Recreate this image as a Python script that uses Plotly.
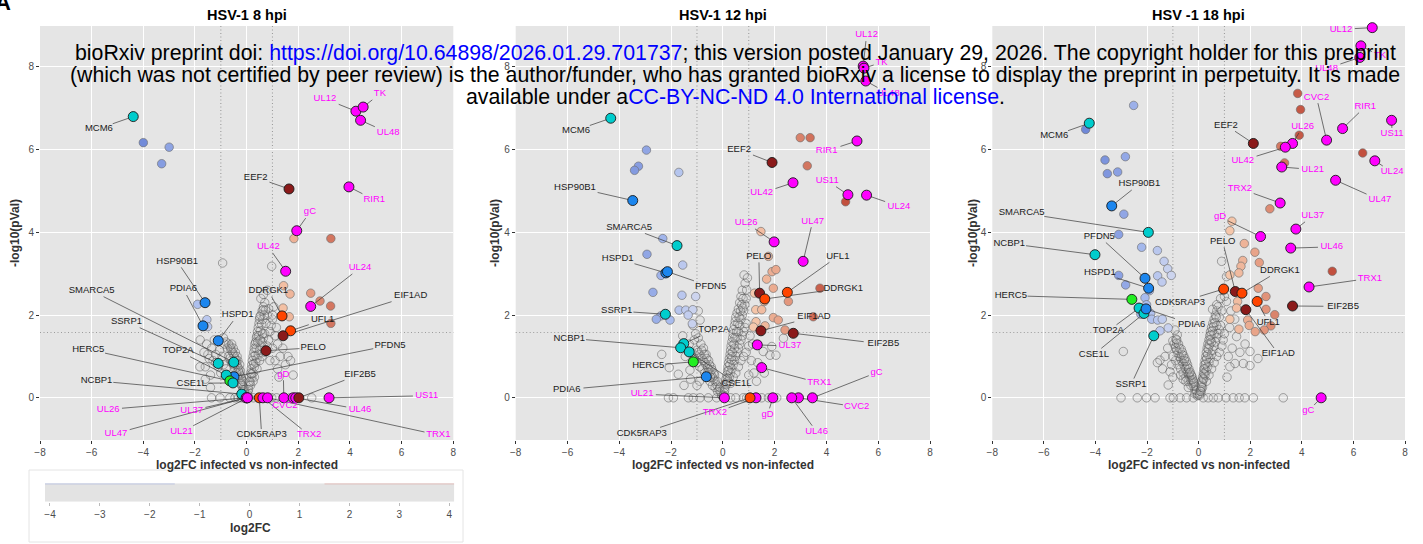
import plotly.graph_objects as go

W, H = 1423, 544

# ---------------- data ----------------
panel_titles = ["HSV-1 8 hpi", "HSV-1 12 hpi", "HSV -1 18 hpi"]
x_title = "log2FC infected vs non-infected"
y_title = "-log10(pVal)"
x_tick_vals = [-8, -6, -4, -2, 0, 2, 4, 6, 8]
y_tick_vals = [0, 2, 4, 6, 8]
fc_threshold = 1.0
p_threshold = 1.58
legend_tick_vals = [-4, -3, -2, -1, 0, 1, 2, 3, 4]
legend_title = "log2FC"

# highlighted genes: (name, log2FC, -log10 p, group)
genes_8 = [
    ("MCM6", -4.39, 6.80, "cyan"), ("UL12", 4.23, 6.93, "viral"), ("TK", 4.51, 7.03, "viral"),
    ("UL48", 4.41, 6.71, "viral"), ("EEF2", 1.64, 5.05, "darkred"), ("RIR1", 3.96, 5.10, "viral"),
    ("gC", 1.94, 4.04, "viral"), ("UL42", 1.51, 3.06, "viral"), ("UL24", 2.48, 2.21, "viral"),
    ("DDRGK1", 1.37, 1.98, "orange"), ("UFL1", 1.70, 1.62, "orange"), ("EIF1AD", 1.41, 1.50, "darkred"),
    ("PELO", 0.75, 1.14, "darkred"), ("PFDN5", -0.49, 0.51, "blue"), ("HSP90B1", -1.61, 2.30, "blue"),
    ("PDIA6", -1.69, 1.74, "blue"), ("HSPD1", -1.10, 1.38, "blue"), ("SMARCA5", -0.50, 0.86, "cyan"),
    ("SSRP1", -1.10, 0.83, "cyan"), ("TOP2A", -0.79, 0.55, "cyan"), ("HERC5", -0.65, 0.41, "green"),
    ("CSE1L", -0.53, 0.36, "cyan"), ("NCBP1", -0.19, 0.09, "cyan"), ("UL26", 0.00, 0.0, "viral"),
    ("UL37", 0.02, 0.0, "viral"), ("UL47", -0.02, 0.0, "viral"), ("UL21", 0.03, 0.0, "viral"),
    ("CDK5RAP3", 0.49, 0.0, "orange"), ("TRX2", 0.63, 0.0, "viral"), ("TRX1", 0.81, 0.0, "viral"),
    ("gD", 1.44, 0.0, "viral"), ("CVC2", 1.80, 0.0, "viral"), ("UL46", 1.90, 0.0, "viral"),
    ("EIF2B5", 2.02, 0.0, "darkred"), ("US11", 3.19, 0.0, "viral"),
]
genes_12 = [
    ("UL12", 5.42, 8.02, "viral"), ("TK", 5.45, 7.97, "viral"), ("UL48", 5.52, 7.66, "viral"),
    ("MCM6", -4.33, 6.76, "cyan"), ("HSP90B1", -3.48, 4.77, "blue"), ("EEF2", 1.90, 5.69, "darkred"),
    ("RIR1", 5.18, 6.21, "viral"), ("UL42", 2.71, 5.20, "viral"), ("US11", 4.83, 4.91, "viral"),
    ("UL24", 5.55, 4.90, "viral"), ("UL26", 1.98, 3.77, "viral"), ("UL47", 3.10, 3.30, "viral"),
    ("SMARCA5", -1.77, 3.68, "cyan"), ("HSPD1", -2.20, 3.02, "blue"), ("PFDN5", -2.14, 3.05, "blue"),
    ("SSRP1", -2.22, 2.02, "cyan"), ("PELO", 1.42, 2.53, "darkred"), ("UFL1", 2.49, 2.55, "orange"),
    ("DDRGK1", 1.62, 2.39, "orange"), ("EIF1AD", 1.47, 1.62, "darkred"), ("EIF2B5", 2.72, 1.56, "darkred"),
    ("UL37", 1.33, 1.28, "viral"), ("TOP2A", -1.51, 1.31, "cyan"), ("NCBP1", -1.63, 1.21, "cyan"),
    ("CSE1L", -1.30, 1.11, "cyan"), ("HERC5", -1.14, 0.87, "green"), ("PDIA6", -0.64, 0.51, "blue"),
    ("TRX1", 1.50, 0.73, "viral"), ("gC", 3.46, 0.0, "viral"), ("CVC2", 2.92, 0.0, "viral"),
    ("UL46", 2.66, 0.0, "viral"), ("gD", 1.93, 0.0, "viral"), ("TRX2", 1.28, 0.0, "viral"),
    ("CDK5RAP3", 1.05, 0.0, "orange"), ("UL21", 0.06, 0.0, "viral"),
]
genes_18 = [
    ("UL12", 6.73, 8.95, "viral"), ("TK", 6.29, 8.51, "viral"), ("UL48", 6.25, 8.23, "viral"),
    ("MCM6", -4.24, 6.64, "cyan"), ("HSP90B1", -3.37, 4.64, "blue"), ("EEF2", 2.12, 6.15, "darkred"),
    ("CVC2", 4.96, 6.23, "viral"), ("RIR1", 5.58, 6.51, "viral"), ("US11", 7.48, 6.71, "viral"),
    ("UL26", 3.64, 6.15, "viral"), ("UL42", 3.36, 6.06, "viral"), ("UL21", 3.22, 5.58, "viral"),
    ("UL24", 6.83, 5.73, "viral"), ("UL47", 5.31, 5.26, "viral"), ("TRX2", 3.16, 4.71, "viral"),
    ("gD", 2.40, 3.90, "viral"), ("UL37", 3.77, 4.08, "viral"), ("SMARCA5", -1.95, 4.00, "cyan"),
    ("NCBP1", -4.02, 3.46, "cyan"), ("PFDN5", -2.08, 2.89, "blue"), ("HSPD1", -1.94, 2.65, "blue"),
    ("HERC5", -2.59, 2.38, "green"), ("TOP2A", -2.31, 2.17, "cyan"), ("CSE1L", -2.12, 2.04, "cyan"),
    ("PDIA6", -2.04, 2.15, "blue"), ("SSRP1", -1.74, 1.50, "cyan"), ("CDK5RAP3", 0.97, 2.63, "orange"),
    ("PELO", 1.42, 2.57, "darkred"), ("DDRGK1", 1.68, 2.53, "orange"), ("EIF1AD", 1.83, 2.13, "darkred"),
    ("UFL1", 2.27, 2.33, "orange"), ("EIF2B5", 3.64, 2.22, "darkred"), ("TRX1", 4.28, 2.68, "viral"),
    ("UL46", 3.57, 3.62, "viral"), ("gC", 4.75, 0.0, "viral"),
]

# significant (coloured by log2FC) points: (log2FC, -log10 p)
sig_8 = [(-4.0, 6.17), (-3.0, 6.06), (-3.29, 5.66), (-1.90, 2.26), (-1.54, 1.89), (-1.51, 1.72),
         (1.83, 3.85), (3.26, 3.85), (1.43, 2.71), (1.68, 2.51), (2.48, 2.53), (2.84, 2.34),
         (3.25, 2.22), (1.41, 2.17), (1.65, 1.96), (3.26, 1.80)]
sig_12 = [(-2.95, 5.99), (-3.26, 5.60), (-3.41, 5.50), (-1.70, 5.45), (-2.32, 3.85), (-2.93, 3.47),
          (-1.55, 3.21), (-2.39, 2.96), (-2.70, 2.55), (-1.58, 2.48), (-1.05, 2.45), (-1.69, 2.12),
          (-1.43, 2.12), (-1.16, 2.13), (-1.34, 2.00), (-2.40, 1.98), (-2.57, 1.90), (-2.04, 1.88),
          (-1.18, 1.79),
          (2.99, 6.29), (3.37, 6.29), (3.26, 5.61), (4.74, 4.74), (1.47, 4.02), (3.75, 2.65),
          (1.76, 3.42), (1.90, 3.05), (2.05, 3.10), (1.69, 2.87), (1.95, 2.65), (1.22, 2.53),
          (1.60, 2.33), (2.53, 2.33), (1.27, 2.13), (1.50, 2.13), (1.95, 1.94), (2.14, 1.88),
          (1.28, 1.84), (1.63, 1.74), (1.18, 1.71), (2.40, 1.64), (3.49, 1.96)]
sig_18 = [(-4.38, 6.49), (-2.52, 7.07), (-2.84, 5.83), (-3.63, 5.75), (-3.54, 5.42), (-3.14, 5.46),
          (-2.90, 4.44), (-3.10, 3.95), (-2.21, 3.64), (-1.60, 3.56), (-1.34, 3.30), (-1.20, 3.12),
          (-1.06, 2.96), (-1.59, 2.95), (-3.10, 2.96), (-2.83, 2.73), (-1.42, 2.80), (-1.91, 2.59),
          (-2.08, 2.42), (-2.02, 2.25), (-2.24, 2.02), (-1.86, 2.04), (-1.82, 1.90), (-1.59, 1.88),
          (-1.41, 1.90), (-1.18, 1.69), (-1.50, 1.62),
          (3.84, 7.36), (3.95, 6.97), (3.90, 6.35), (3.18, 6.08), (3.33, 5.68), (2.76, 4.57),
          (6.36, 5.92), (1.29, 4.27), (1.21, 4.04), (1.77, 3.73), (2.18, 3.52), (1.71, 3.32),
          (2.35, 3.27), (1.64, 3.18), (1.56, 3.02), (1.21, 2.97), (2.31, 2.65), (2.61, 2.45),
          (1.51, 2.33), (1.47, 2.17), (2.61, 2.14), (2.95, 2.01), (1.90, 1.88), (1.96, 1.75),
          (2.80, 1.74), (2.54, 1.64), (2.19, 1.60), (1.56, 1.66), (1.21, 1.90), (5.18, 3.06)]

# non-significant background proteins: (log2FC, -log10 p)
ns_8 = [(-1.36, 0), (-1.03, 0), (-0.65, 0), (-0.45, 0), (-0.32, 0), (0.26, 0), (0.45, 0), (0.64, 0),
        (0.77, 0), (0.97, 0), (1.16, 0), (1.68, 0), (2.52, 0), (-0.2, 0), (0.1, 0), (-0.1, 0),
        (-0.05, 0.1), (-0.1, 0.15), (-0.12, 0.25), (-0.15, 0.3), (-0.18, 0.35), (-0.2, 0.45), (-0.22, 0.5),
        (-0.25, 0.55), (-0.28, 0.6), (-0.3, 0.7), (-0.32, 0.65), (-0.35, 0.75), (-0.38, 0.8), (-0.4, 0.9),
        (-0.42, 0.85), (-0.45, 0.95), (-0.48, 1.0), (-0.5, 1.05), (-0.55, 1.1), (-0.6, 1.15), (-0.62, 1.2),
        (-0.65, 1.25), (-0.7, 1.3), (-0.75, 1.2), (-0.8, 1.35), (-0.85, 1.3), (-0.9, 1.45), (-0.3, 0.45),
        (-0.35, 0.5), (-0.4, 0.6), (-0.45, 0.7), (-0.5, 0.8), (-0.55, 0.85), (-0.6, 0.9), (-0.65, 0.95),
        (-0.7, 1.0), (-0.2, 0.3), (-0.25, 0.35), (-0.15, 0.2), (-0.1, 0.1),
        (-0.03, 0.05), (-0.08, 0.2), (-0.14, 0.4), (-0.24, 0.65), (-0.34, 0.9), (-0.44, 1.1),
        (-0.52, 1.2), (-0.58, 1.3), (-0.27, 0.8), (-0.37, 1.0),
        (-1.0, 0.6), (-1.1, 0.75), (-1.2, 0.85), (-1.3, 0.9), (-1.45, 0.95), (-1.5, 1.05), (-1.6, 0.75),
        (-1.8, 1.4), (-1.55, 1.3), (-1.35, 1.2), (-1.2, 1.05), (-0.95, 1.0), (-0.9, 0.8), (-0.8, 0.7),
        (-1.05, 1.15), (-1.4, 0.55), (-1.65, 1.1), (-1.25, 1.4), (-0.93, 3.26), (-1.4, 0.25), (-1.6, 0.45),
        (-1.81, 0.75),
        (0.05, 0.15), (0.08, 0.3), (0.1, 0.4), (0.12, 0.5), (0.15, 0.6), (0.18, 0.7), (0.2, 0.8),
        (0.22, 0.9), (0.25, 1.0), (0.28, 1.1), (0.3, 1.2), (0.32, 1.3), (0.35, 1.35), (0.38, 1.45),
        (0.4, 1.5), (0.42, 1.6), (0.45, 1.7), (0.48, 1.8), (0.5, 1.9), (0.55, 2.0), (0.6, 2.1),
        (0.65, 2.2), (0.7, 2.3), (0.2, 0.5), (0.25, 0.6), (0.3, 0.75), (0.35, 0.85), (0.4, 0.95),
        (0.45, 1.05), (0.5, 1.15), (0.55, 1.25), (0.6, 1.35), (0.65, 1.45), (0.7, 1.55), (0.3, 0.5),
        (0.4, 0.7), (0.5, 0.9), (0.6, 1.0), (0.7, 1.1), (0.8, 1.25), (0.85, 1.4), (0.9, 1.6),
        (0.95, 1.75), (1.0, 1.9), (0.75, 1.8), (0.8, 2.0), (0.85, 2.15), (0.15, 0.3), (0.25, 0.4),
        (0.03, 0.08), (0.07, 0.2), (0.13, 0.38), (0.19, 0.58), (0.27, 0.82), (0.33, 1.02),
        (0.37, 1.2), (0.43, 1.35), (0.47, 1.5), (0.53, 1.62), (0.58, 1.78), (0.63, 1.9),
        (0.68, 2.0), (0.73, 2.12), (0.52, 1.4), (0.62, 1.55),
        (0.64, 2.13), (0.51, 1.96), (1.0, 2.0), (0.97, 3.18), (1.1, 0.9), (1.2, 0.7), (1.3, 1.0),
        (1.5, 0.8), (1.8, 0.55), (1.6, 1.0), (1.4, 1.2), (1.2, 1.3), (1.1, 1.5), (1.0, 1.2), (0.9, 0.9),
        (1.25, 0.5), (1.7, 0.9), (0.55, 2.4), (0.65, 2.5), (0.8, 2.6), (1.05, 2.2), (1.15, 1.7)]
ns_12 = [(-2.10, 0), (-1.91, 0), (-1.33, 0), (-1.14, 0), (-0.88, 0), (-0.56, 0), (-0.24, 0), (0.79, 0),
         (0.92, 0), (1.50, 0), (1.76, 0), (2.08, 0), (0.3, 0), (0.5, 0),
         (-0.05, 0.08), (-0.1, 0.15), (-0.15, 0.2), (-0.2, 0.28), (-0.25, 0.32), (-0.3, 0.4), (-0.35, 0.45),
         (-0.4, 0.5), (-0.45, 0.55), (-0.5, 0.62), (-0.55, 0.7), (-0.6, 0.75), (-0.65, 0.8), (-0.7, 0.85),
         (-0.75, 0.9), (-0.8, 0.95), (-0.85, 1.0), (-0.9, 1.05), (-0.95, 1.1), (-1.0, 1.15), (-0.2, 0.15),
         (-0.3, 0.25), (-0.4, 0.3), (-0.5, 0.4), (-0.6, 0.5), (-0.7, 0.6), (-0.8, 0.7), (-0.9, 0.75),
         (-1.0, 0.85), (-1.1, 0.95), (-0.35, 0.6), (-0.45, 0.75), (-0.55, 0.9), (-0.65, 1.05),
         (-0.75, 1.2), (-0.85, 1.3), (-0.95, 1.45), (-1.05, 1.55),
         (-0.03, 0.04), (-0.12, 0.25), (-0.22, 0.4), (-0.32, 0.55), (-0.42, 0.68), (-0.52, 0.8),
         (-0.62, 0.95), (-0.72, 1.05), (-0.82, 1.15), (-0.48, 0.5), (-0.58, 0.62),
         (-2.36, 1.05), (-2.07, 0.73), (-1.72, 0.57), (-1.27, 0.67), (-1.2, 1.1), (-1.3, 1.3), (-1.45, 1.0),
         (-1.55, 1.5), (-1.1, 1.4), (-1.25, 0.45), (-1.5, 0.3), (-0.9, 0.4), (-1.0, 0.3), (-1.15, 1.75),
         (-0.88, 1.88), (-0.95, 2.1),
         (0.05, 0.12), (0.08, 0.25), (0.1, 0.35), (0.12, 0.45), (0.15, 0.55), (0.18, 0.65), (0.2, 0.75),
         (0.22, 0.85), (0.25, 0.95), (0.28, 1.05), (0.3, 1.15), (0.32, 1.25), (0.35, 1.35), (0.38, 1.45),
         (0.4, 1.55), (0.42, 1.65), (0.45, 1.75), (0.48, 1.85), (0.5, 1.95), (0.55, 2.05), (0.6, 2.15),
         (0.65, 2.3), (0.7, 2.45), (0.75, 2.6), (0.2, 0.4), (0.25, 0.5), (0.3, 0.6), (0.35, 0.7),
         (0.4, 0.8), (0.45, 0.9), (0.5, 1.0), (0.55, 1.1), (0.6, 1.2), (0.65, 1.3), (0.7, 1.4),
         (0.75, 1.5), (0.8, 1.6), (0.85, 1.7), (0.9, 1.8), (0.3, 0.35), (0.4, 0.5), (0.5, 0.6),
         (0.6, 0.75), (0.7, 0.9), (0.8, 1.0), (0.9, 1.1), (1.0, 1.25), (0.6, 1.6), (0.65, 1.75),
         (0.7, 1.9), (0.75, 2.0), (0.8, 2.1), (0.85, 2.25), (0.9, 2.4), (0.35, 1.0), (0.45, 1.2),
         (0.55, 1.45),
         (0.03, 0.06), (0.07, 0.18), (0.13, 0.32), (0.17, 0.48), (0.23, 0.66), (0.27, 0.8),
         (0.33, 0.92), (0.37, 1.1), (0.43, 1.3), (0.47, 1.45), (0.53, 1.6), (0.58, 1.8), (0.63, 1.95),
         (0.68, 2.1), (0.73, 2.25), (0.78, 2.4),
         (0.86, 2.77), (0.82, 2.97), (0.92, 2.61), (0.77, 2.17), (2.34, 1.44), (1.82, 1.03), (2.05, 1.03),
         (1.56, 1.12), (1.89, 1.24), (1.1, 0.9), (1.2, 0.6), (1.35, 0.85), (1.05, 1.5), (1.15, 1.3),
         (1.3, 0.4), (1.6, 0.6), (1.0, 0.55), (0.95, 2.9)]
ns_18 = [(-3.01, 0), (-2.38, 0), (-2.02, 0), (-1.69, 0), (-1.11, 0), (-0.98, 0), (-0.72, 0), (-0.47, 0),
         (-0.21, 0), (0.18, 0), (0.37, 0), (0.57, 0), (0.76, 0), (1.06, 0), (1.34, 0), (1.57, 0),
         (1.79, 0), (2.12, 0), (3.28, 0),
         (-0.05, 0.05), (-0.1, 0.12), (-0.15, 0.2), (-0.2, 0.28), (-0.25, 0.35), (-0.3, 0.42),
         (-0.35, 0.5), (-0.4, 0.56), (-0.45, 0.62), (-0.5, 0.7), (-0.55, 0.76), (-0.6, 0.82),
         (-0.65, 0.88), (-0.7, 0.95), (-0.75, 1.0), (-0.8, 1.08), (-0.85, 1.15), (-0.9, 1.22),
         (-0.95, 1.3), (-1.0, 1.38), (-0.3, 0.3), (-0.4, 0.4), (-0.5, 0.5), (-0.6, 0.6), (-0.7, 0.7),
         (-0.8, 0.8), (-0.9, 0.9), (-0.35, 0.6), (-0.45, 0.75), (-0.55, 0.9), (-0.65, 1.05),
         (-0.75, 1.2), (-0.85, 1.32), (-0.2, 0.4), (-0.25, 0.5), (-0.5, 0.4), (-0.6, 0.45), (-0.7, 0.55),
         (-0.4, 0.25), (-0.15, 0.1),
         (-0.03, 0.08), (-0.08, 0.18), (-0.13, 0.28), (-0.18, 0.36), (-0.23, 0.44), (-0.28, 0.55),
         (-0.33, 0.62), (-0.38, 0.7), (-0.43, 0.8), (-0.48, 0.88), (-0.53, 0.95), (-0.58, 1.02),
         (-0.63, 1.1), (-0.68, 1.18), (-0.78, 1.3), (-0.88, 1.42),
         (-2.92, 1.12), (-1.50, 0.91), (-1.11, 0.63), (-1.18, 0.31), (-0.83, 1.52), (-0.92, 1.64),
         (-0.85, 1.40), (-1.3, 1.0), (-1.4, 0.7), (-1.0, 1.0), (-1.05, 0.8), (-1.2, 1.2), (-1.6, 0.85),
         (-1.0, 0.5),
         (0.05, 0.1), (0.08, 0.2), (0.1, 0.3), (0.12, 0.4), (0.15, 0.5), (0.18, 0.6), (0.2, 0.7),
         (0.22, 0.8), (0.25, 0.9), (0.28, 1.0), (0.3, 1.1), (0.33, 1.2), (0.36, 1.3), (0.4, 1.4),
         (0.43, 1.5), (0.46, 1.6), (0.5, 1.7), (0.55, 1.8), (0.6, 1.9), (0.65, 2.0), (0.7, 2.1),
         (0.75, 2.2), (0.2, 0.45), (0.25, 0.55), (0.3, 0.65), (0.35, 0.75), (0.4, 0.85), (0.45, 0.95),
         (0.5, 1.05), (0.55, 1.15), (0.6, 1.25), (0.65, 1.35), (0.7, 1.45), (0.75, 1.55), (0.8, 1.65),
         (0.85, 1.75), (0.3, 0.4), (0.4, 0.55), (0.5, 0.7), (0.6, 0.85), (0.7, 1.0), (0.8, 1.1),
         (0.9, 1.25), (0.95, 1.4), (1.0, 1.55), (0.5, 1.35), (0.6, 1.55), (0.7, 1.75), (0.8, 1.95),
         (0.9, 2.1), (0.15, 0.25), (0.1, 0.15),
         (0.03, 0.06), (0.06, 0.16), (0.11, 0.26), (0.14, 0.36), (0.17, 0.46), (0.21, 0.58),
         (0.24, 0.7), (0.27, 0.82), (0.31, 0.94), (0.35, 1.05), (0.38, 1.18), (0.42, 1.28),
         (0.45, 1.4), (0.48, 1.52), (0.53, 1.62), (0.58, 1.72), (0.63, 1.82), (0.68, 1.95),
         (1.99, 0.78), (1.73, 0.83), (1.99, 1.12), (1.47, 1.48), (1.41, 0.83), (1.21, 0.75), (0.89, 3.30),
         (1.08, 2.93), (1.08, 2.33), (0.70, 2.25), (0.54, 2.14), (1.3, 1.2), (1.15, 1.0), (1.6, 1.1),
         (1.8, 1.3), (1.1, 0.5), (2.3, 0.95), (0.95, 2.6), (1.0, 2.45), (0.85, 2.4), (1.2, 1.7),
         (1.4, 1.9), (1.25, 2.1)]

# ---------------- layout / styling (label placement is layout, not data) ----------------
label_pos = [
    {"MCM6": (-5.72, 6.51), "UL12": (3.03, 7.23), "TK": (5.16, 7.35), "UL48": (5.48, 6.41),
     "EEF2": (0.35, 5.33), "RIR1": (4.94, 4.79), "gC": (2.45, 4.49), "UL42": (0.84, 3.65),
     "UL24": (4.39, 3.14), "DDRGK1": (0.84, 2.59), "UFL1": (2.94, 1.88), "EIF1AD": (6.35, 2.47),
     "PELO": (2.58, 1.21), "PFDN5": (5.55, 1.27), "HSP90B1": (-2.69, 3.30), "PDIA6": (-2.45, 2.63),
     "HSPD1": (-0.35, 2.0), "SMARCA5": (-6.0, 2.59), "SSRP1": (-4.65, 1.84), "TOP2A": (-2.65, 1.14),
     "HERC5": (-6.13, 1.17), "CSE1L": (-2.13, 0.35), "NCBP1": (-5.81, 0.41), "UL26": (-5.36, -0.28),
     "UL37": (-2.13, -0.31), "UL47": (-5.06, -0.86), "UL21": (-2.52, -0.82), "CDK5RAP3": (0.58, -0.90),
     "TRX2": (2.42, -0.90), "TRX1": (7.42, -0.90), "gD": (1.42, 0.57), "CVC2": (1.48, -0.18),
     "UL46": (4.39, -0.28), "EIF2B5": (4.39, 0.57), "US11": (6.97, 0.05)},
    {"UL12": (5.55, 8.77), "TK": (6.13, 8.11), "UL48": (6.39, 7.36), "MCM6": (-5.67, 6.47),
     "HSP90B1": (-5.71, 5.09), "EEF2": (0.63, 6.0), "RIR1": (4.01, 5.97), "UL42": (1.50, 4.95),
     "US11": (4.03, 5.25), "UL24": (6.80, 4.63), "UL26": (0.90, 4.23), "UL47": (3.47, 4.27),
     "SMARCA5": (-3.62, 4.12), "HSPD1": (-4.06, 3.36), "PFDN5": (-0.47, 2.69), "SSRP1": (-4.10, 2.10),
     "PELO": (1.39, 3.42), "UFL1": (4.44, 3.42), "DDRGK1": (4.65, 2.65), "EIF1AD": (3.52, 1.96),
     "EIF2B5": (6.20, 1.30), "UL37": (2.59, 1.25), "TOP2A": (-0.35, 1.64), "NCBP1": (-5.93, 1.44),
     "CSE1L": (0.53, 0.35), "HERC5": (-2.88, 0.78), "PDIA6": (-6.03, 0.20), "TRX1": (3.73, 0.36),
     "gC": (5.94, 0.61), "CVC2": (5.17, -0.22), "UL46": (3.62, -0.82), "gD": (1.73, -0.40),
     "TRX2": (-0.31, -0.36), "CDK5RAP3": (-3.13, -0.86), "UL21": (-3.12, 0.09)},
    {"UL12": (5.52, 8.91), "TK": (7.03, 8.27), "UL48": (4.96, 7.96), "MCM6": (-5.60, 6.34),
     "HSP90B1": (-2.30, 5.17), "EEF2": (1.06, 6.59), "CVC2": (4.57, 7.27), "RIR1": (6.46, 7.04),
     "US11": (7.50, 6.38), "UL26": (4.03, 6.55), "UL42": (1.71, 5.74), "UL21": (4.42, 5.52),
     "UL24": (7.50, 5.46), "UL47": (7.03, 4.78), "TRX2": (1.60, 5.06), "gD": (0.83, 4.37),
     "UL37": (4.42, 4.40), "SMARCA5": (-6.86, 4.47), "NCBP1": (-7.34, 3.73), "PFDN5": (-3.85, 3.90),
     "HSPD1": (-3.83, 3.03), "HERC5": (-7.28, 2.47), "TOP2A": (-3.50, 1.62), "CSE1L": (-4.06, 1.05),
     "PDIA6": (-0.27, 1.78), "SSRP1": (-2.62, 0.32), "CDK5RAP3": (-0.72, 2.31), "PELO": (0.93, 3.78),
     "DDRGK1": (3.15, 3.08), "EIF1AD": (3.09, 1.06), "UFL1": (2.70, 1.83), "EIF2B5": (5.60, 2.21),
     "TRX1": (6.64, 2.89), "UL46": (5.16, 3.65), "gC": (4.25, -0.32)},
]

group_colors = {"viral": "#FF00FF", "cyan": "#00CDCD", "blue": "#1C86EE", "green": "#22EE22",
                "darkred": "#8B1A1A", "orange": "#FF4500"}
FONT = "Liberation Sans, Arial, Helvetica, sans-serif"

panels_px = [(40.0, 453.3), (515.7, 930.0), (992.3, 1405.0)]
ytitle_px = [15.0, 495.0, 973.0]
top_px, bot_px = 26.0, 440.0
x_range = [-8, 8]
y_range = [-1.02, 8.99]
label_fs = 9.5


def fx(px):
    return px / W


def fy(py):
    return 1 - py / H


colorscale = [[0.0, "#6F88D8"], [0.25, "#A9BCEE"], [0.5, "#F2EEEE"], [0.65, "#F5C6AA"],
              [0.8, "#E49A80"], [1.0, "#C2503E"]]

fig = go.Figure()
annotations = []
shapes = []
layout_axes = {}

datasets = [(genes_8, sig_8, ns_8), (genes_12, sig_12, ns_12), (genes_18, sig_18, ns_18)]
dot_line = dict(color="#9C9C9C", width=1.1, dash="1px,2.5px")

for i, ((x0, x1), (genes, sig, ns)) in enumerate(zip(panels_px, datasets)):
    k = "" if i == 0 else str(i + 1)
    xa, ya = "x" + k, "y" + k
    sx = (x1 - x0) / (x_range[1] - x_range[0])
    sy = (bot_px - top_px) / (y_range[1] - y_range[0])
    axis_common = dict(showgrid=True, gridcolor="#FFFFFF", gridwidth=1.1, zeroline=False,
                       showline=False, ticks="outside", ticklen=3, tickwidth=1, tickcolor="#333333",
                       automargin=False,
                       tickfont=dict(family=FONT, size=10, color="#4D4D4D"))
    layout_axes["xaxis" + k] = dict(domain=[fx(x0), fx(x1)], range=x_range, anchor=ya,
                                    tickvals=x_tick_vals, **axis_common)
    layout_axes["yaxis" + k] = dict(domain=[fy(bot_px), fy(top_px)], range=y_range, anchor=xa,
                                    tickvals=y_tick_vals, **axis_common)

    # threshold lines
    for xv in (-fc_threshold, fc_threshold):
        shapes.append(dict(type="line", xref=xa, yref=ya + " domain", x0=xv, x1=xv, y0=0, y1=1,
                           line=dot_line, layer="below"))
    shapes.append(dict(type="line", xref=xa + " domain", yref=ya, x0=0, x1=1, y0=p_threshold,
                       y1=p_threshold, line=dot_line, layer="below"))

    # background proteins
    fig.add_trace(go.Scatter(x=[p[0] for p in ns], y=[p[1] for p in ns], mode="markers",
                             xaxis=xa, yaxis=ya, hoverinfo="skip",
                             marker=dict(size=8.5, color="rgba(200,200,200,0.15)",
                                         line=dict(color="rgba(70,70,70,0.5)", width=0.9))))
    # significant proteins coloured by log2FC
    fig.add_trace(go.Scatter(x=[p[0] for p in sig], y=[p[1] for p in sig], mode="markers",
                             xaxis=xa, yaxis=ya,
                             marker=dict(size=8.5, color=[p[0] for p in sig], colorscale=colorscale,
                                         cmin=-4.1, cmax=4.1,
                                         line=dict(color="rgba(110,110,110,0.8)", width=0.8))))

    # leader segments
    lpos = label_pos[i]
    seg_x, seg_y = [], []
    for name, gx, gy, grp in genes:
        lx, ly = lpos[name]
        dxp = (gx - lx) * sx
        dyp = (gy - ly) * sy
        hw = len(name) * label_fs * 0.31 + 2
        hh = 6.0
        cands = []
        if abs(dxp) > 1e-9:
            cands.append(hw / abs(dxp))
        if abs(dyp) > 1e-9:
            cands.append(hh / abs(dyp))
        s = min(cands) if cands else 2
        if s >= 1:
            continue
        ex, ey = lx + (gx - lx) * s, ly + (gy - ly) * s
        seglen = ((1 - s) * (dxp ** 2 + dyp ** 2) ** 0.5)
        if seglen < 6:
            continue
        seg_x += [gx, ex, None]
        seg_y += [gy, ey, None]
    fig.add_trace(go.Scatter(x=seg_x, y=seg_y, mode="lines", xaxis=xa, yaxis=ya, hoverinfo="skip",
                             line=dict(color="#3A3A3A", width=0.7), cliponaxis=False))

    # highlighted proteins
    fig.add_trace(go.Scatter(x=[g[1] for g in genes], y=[g[2] for g in genes], mode="markers",
                             xaxis=xa, yaxis=ya, cliponaxis=False,
                             marker=dict(size=10, color=[group_colors[g[3]] for g in genes],
                                         line=dict(color="#1A1A1A", width=0.9))))
    # labels
    fig.add_trace(go.Scatter(x=[lpos[g[0]][0] for g in genes], y=[lpos[g[0]][1] for g in genes],
                             text=[g[0] for g in genes], mode="text", xaxis=xa, yaxis=ya,
                             cliponaxis=False, textposition="middle center", hoverinfo="skip",
                             textfont=dict(family=FONT, size=label_fs,
                                           color=["#FF00FF" if g[3] == "viral" else "#1A1A1A"
                                                  for g in genes])))

    # titles
    cx = (x0 + x1) / 2
    annotations.append(dict(text="<b>%s</b>" % panel_titles[i], x=fx(cx), y=fy(15), xref="paper",
                            yref="paper", showarrow=False, xanchor="center", yanchor="middle",
                            font=dict(family=FONT, size=14.5, color="#000000")))
    annotations.append(dict(text="<b>%s</b>" % x_title, x=fx(cx), y=fy(465), xref="paper",
                            yref="paper", showarrow=False, xanchor="center", yanchor="middle",
                            font=dict(family=FONT, size=12, color="#333333")))
    annotations.append(dict(text="<b>%s</b>" % y_title, x=fx(ytitle_px[i]), y=fy(233), xref="paper",
                            yref="paper", showarrow=False, xanchor="center", yanchor="middle",
                            textangle=-90, font=dict(family=FONT, size=12, color="#333333")))

# ---- colour bar legend (bottom-left) ----
shapes.append(dict(type="rect", xref="paper", yref="paper", x0=fx(29), x1=fx(463), y0=fy(542),
                   y1=fy(470), line=dict(color="#E4E4E4", width=1), fillcolor="#FFFFFF", layer="below"))
layout_axes["xaxis4"] = dict(domain=[fx(45), fx(454.3)], range=[-4.1, 4.1], anchor="y4",
                             tickvals=legend_tick_vals, showgrid=False, zeroline=False, showline=False,
                             ticks="outside", ticklen=3, tickcolor="#BBBBBB", automargin=False,
                             tickfont=dict(family=FONT, size=10, color="#4D4D4D"))
layout_axes["yaxis4"] = dict(domain=[fy(501.7), fy(483.3)], range=[0, 1], anchor="x4",
                             showgrid=False, zeroline=False, showticklabels=False, ticks="",
                             automargin=False)
fig.add_trace(go.Scatter(x=[-4.1, 4.1], y=[0.5, 0.5], mode="lines", xaxis="x4", yaxis="y4",
                         line=dict(color="rgba(0,0,0,0)"), hoverinfo="skip"))
shapes.append(dict(type="rect", xref="x4", yref="y4", x0=-4.1, x1=4.1, y0=0, y1=1,
                   line=dict(width=0), fillcolor="#E3E3E3", layer="above"))
shapes.append(dict(type="line", xref="x4", yref="y4", x0=-4.1, x1=-1.5, y0=0.97, y1=0.97,
                   line=dict(color="rgba(120,140,215,0.45)", width=1)))
shapes.append(dict(type="line", xref="x4", yref="y4", x0=1.5, x1=4.1, y0=0.97, y1=0.97,
                   line=dict(color="rgba(215,120,110,0.45)", width=1)))
annotations.append(dict(text="<b>%s</b>" % legend_title, x=fx(250), y=fy(528), xref="paper",
                        yref="paper", showarrow=False, xanchor="center", yanchor="middle",
                        font=dict(family=FONT, size=12, color="#333333")))

# panel letter
annotations.append(dict(text="<b>A</b>", x=fx(-7), y=fy(17), xref="paper", yref="paper",
                        showarrow=False, xanchor="left", yanchor="bottom",
                        font=dict(family=FONT, size=22, color="#000000")))

# preprint watermark header
blue = "#0000FF"
header_lines = [
    'bioRxiv preprint doi: <span style="color:%s">https://doi.org/10.64898/2026.01.29.701737</span>; '
    'this version posted January 29, 2026. The copyright holder for this preprint' % blue,
    '(which was not certified by peer review) is the author/funder, who has granted bioRxiv a license '
    'to display the preprint in perpetuity. It is made',
    'available under a<span style="color:%s">CC-BY-NC-ND 4.0 International license</span>.' % blue,
]
for txt, ypx in zip(header_lines, [53, 75, 97]):
    annotations.append(dict(text=txt, x=fx(735), y=fy(ypx), xref="paper", yref="paper",
                            showarrow=False, xanchor="center", yanchor="middle",
                            font=dict(family=FONT, size=21.3, color="#000000")))

fig.update_layout(width=W, height=H, autosize=False, margin=dict(l=0, r=0, t=0, b=0),
                  paper_bgcolor="#FFFFFF", plot_bgcolor="#E5E5E5", showlegend=False,
                  annotations=annotations, shapes=shapes, **layout_axes)

fig.write_html("out.html", config={"displayModeBar": False},
               post_script="document.body.style.margin='0px';"
                           "document.body.style.overflow='hidden';")
